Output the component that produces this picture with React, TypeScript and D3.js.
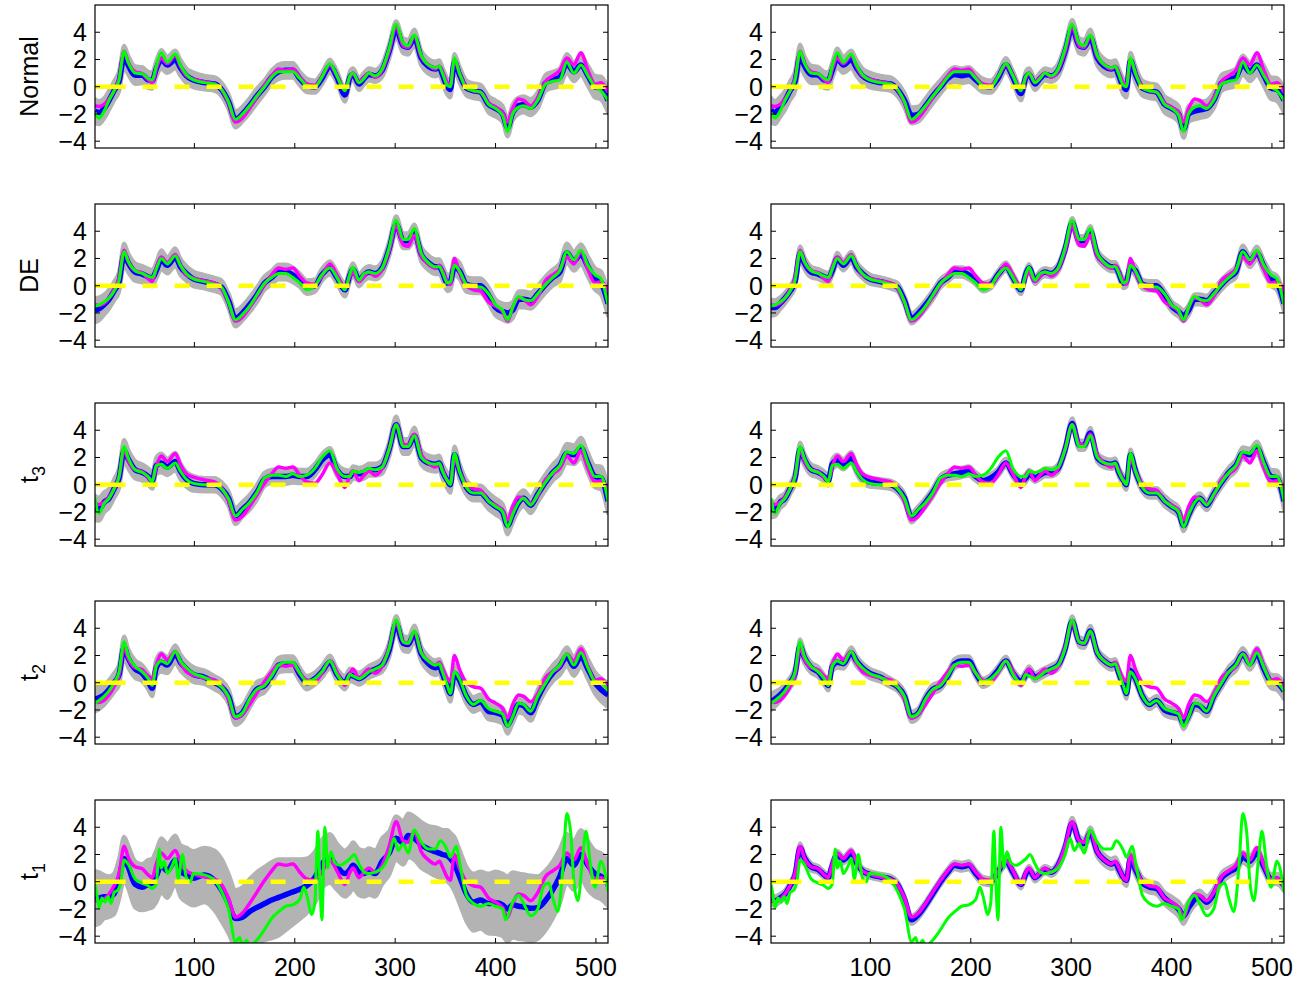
import React from 'react';
import * as d3 from 'd3';

// sample positions along the signal (shared by most series)
const knots = [
  1, 5, 10, 15, 20, 25, 30, 34, 41, 48,
  54, 58, 62, 67, 73, 81, 86, 92, 99, 110,
  120, 127, 134, 141, 148, 155, 162, 170, 177, 184,
  191, 198, 205, 212, 220, 227, 235, 242, 250, 255,
  258, 264, 269, 274, 280, 287, 294, 301, 308, 313,
  319, 326, 333, 340, 344, 347, 352, 355, 359, 364,
  371, 378, 385, 393, 400, 407, 412, 417, 423, 428,
  435, 442, 450, 457, 464, 471, 478, 485, 492, 499,
  505, 512,
];

// magenta: true signal
const truth = [
  -1.4, -1.45, -1.3, -0.9, -0.3, 0.6, 2.6, 1.8, 1.1, 0.95,
  0.5, 0.3, 1.3, 2.1, 1.7, 2.3, 1.5, 0.8, 0.55, 0.35,
  0.2, -0.2, -1.2, -2.6, -2.3, -1.6, -0.8, 0.1, 0.8, 1.3,
  1.2, 1.3, 0.7, 0.2, 0.1, 0.7, 1.6, 0.8, -0.2, 0.7,
  1.0, 0.3, 0.7, 1.0, 0.7, 1.2, 2.6, 4.4, 3.0, 2.9,
  3.7, 2.2, 1.6, 1.3, 1.5, 1.1, 0.3, 0.1, 2.0, 1.0,
  0.0, -0.3, -0.4, -1.2, -1.5, -1.9, -2.6, -1.6, -0.9, -1.0,
  -1.4, -0.8, 0.4, 0.8, 1.2, 2.1, 1.6, 2.5, 1.2, 0.2,
  0.3, -0.4,
];

// green estimates, one per noise model (same in both columns)
const greenNormal = [
  -1.9, -2.3, -1.8, -1.0, -0.3, 0.5, 2.6, 1.8, 1.0, 0.95,
  0.6, 0.5, 1.5, 2.5, 1.8, 2.4, 1.6, 0.9, 0.5, 0.3,
  0.2, -0.2, -1.1, -2.4, -2.0, -1.4, -0.7, 0.0, 0.7, 1.1,
  1.1, 1.1, 0.6, 0.1, 0.0, 0.7, 1.7, 0.8, -0.3, 0.8,
  1.0, 0.3, 0.6, 1.0, 0.8, 1.3, 2.8, 4.6, 3.2, 3.0,
  3.8, 2.3, 1.6, 1.4, 1.5, 1.0, 0.1, 0.0, 2.1, 1.0,
  -0.1, -0.3, -0.4, -1.3, -1.6, -2.1, -3.3, -2.0, -1.5, -1.4,
  -1.6, -1.0, 0.2, 0.4, 0.5, 1.8, 1.0, 1.6, 0.8, 0.0,
  -0.3, -1.0,
];
const greenDE = [
  -1.5, -1.4, -1.2, -0.9, -0.4, 0.4, 2.5, 1.8, 1.1, 0.9,
  0.7, 0.6, 1.2, 2.0, 1.6, 2.2, 1.5, 0.9, 0.5, 0.3,
  0.1, -0.1, -1.2, -2.5, -2.1, -1.5, -0.7, 0.2, 0.6, 0.9,
  0.9, 0.6, 0.2, -0.3, 0.0, 0.8, 1.3, 0.6, -0.3, 0.9,
  1.35, 0.4, 0.9, 1.0, 0.9, 1.3, 2.8, 4.8, 3.4, 3.4,
  4.2, 2.4, 1.7, 1.4, 1.4, 1.0, 0.2, 0.3, 1.5, 1.1,
  0.1, -0.1, -0.1, -0.6, -1.4, -1.8, -2.5, -1.6, -0.8, -1.0,
  -1.1, -0.6, 0.1, 0.6, 1.1, 2.5, 1.9, 2.6, 1.5, 0.8,
  0.5, -1.4,
];
const greenT3 = [
  -1.0, -2.1, -1.4, -1.0, -0.3, 0.6, 2.8, 2.0, 1.1, 0.9,
  0.6, 0.2, 1.4, 1.5, 1.2, 1.6, 1.0, 0.4, 0.1, 0.0,
  0.0, -0.3, -1.0, -2.3, -1.8, -1.3, -0.6, 0.5, 0.7, 0.7,
  0.6, 0.8, 0.6, 0.7, 1.2, 2.0, 2.5, 1.2, 0.6, 0.6,
  1.0, 0.9, 1.0, 1.2, 1.1, 1.3, 2.6, 4.4, 2.8, 2.8,
  3.6, 2.0, 1.6, 1.5, 1.6, 1.0, 0.3, 0.0, 2.3, 1.0,
  -0.2, -0.6, -0.6, -1.2, -1.6, -2.0, -3.1, -2.2, -1.3, -1.0,
  -1.5, -0.7, 0.2, 0.9, 1.4, 2.4, 2.3, 2.9, 1.6, 0.6,
  0.6, -1.2,
];
const greenT2 = [
  -1.5, -1.3, -1.0, -0.6, 0.0, 0.8, 3.0, 2.0, 1.2, 0.8,
  0.3, -0.2, 1.2, 1.6, 1.4, 2.3, 1.6, 1.1, 0.7, 0.4,
  0.0, -0.3, -1.0, -2.5, -2.2, -1.2, -0.5, -0.2, 0.5, 1.3,
  1.5, 1.5, 0.7, 0.1, 0.3, 0.8, 1.6, 0.6, 0.0, 0.6,
  0.5, 0.3, 0.5, 0.8, 1.0, 1.3, 2.5, 4.6, 3.0, 2.9,
  3.8, 2.2, 1.6, 1.3, 1.4, 0.8, -0.2, -0.8, 0.8, 0.3,
  -1.0, -1.6, -1.3, -1.9, -2.1, -2.3, -3.2, -2.5, -1.5, -1.6,
  -2.1, -1.0, 0.0, 0.8, 1.3, 2.1, 1.3, 2.2, 1.1, 0.1,
  0.0, -0.6,
];
// t1 green oscillates, so it has its own positions
const greenT1X = [
  1, 3, 5, 8, 11, 14, 17, 20, 24, 27,
  30, 34, 41, 48, 54, 58, 62, 65, 67, 70,
  73, 78, 81, 84, 88, 92, 96, 99, 110, 120,
  127, 134, 141, 145, 148, 152, 155, 162, 170, 177,
  184, 191, 198, 205, 209, 212, 217, 220, 223, 225,
  227, 230, 233, 236, 240, 245, 250, 255, 259, 264,
  269, 274, 280, 287, 294, 299, 303, 308, 313, 319,
  326, 333, 340, 345, 352, 355, 361, 364, 371, 378,
  385, 393, 400, 407, 410, 417, 423, 428, 435, 442,
  448, 453, 457, 462, 467, 471, 475, 478, 482, 487,
  490, 495, 499, 505, 512,
];
const greenT1 = [
  -0.2, -1.0, -1.9, -1.2, -1.5, -1.1, -1.6, -0.8, -0.6, 0.1,
  1.6, 1.3, 0.2, -0.1, -0.3, -0.5, -0.2, 2.4, 1.0, 1.5,
  0.6, 1.2, 1.7, 0.2, 2.0, 0.3, 0.0, 0.6, 0.5, 0.1,
  -0.7, -2.0, -4.4, -4.1, -4.7, -4.3, -4.7, -4.3, -3.5, -2.7,
  -2.2, -1.8, -1.7, -1.3, -0.4, -1.0, -2.4, -1.5, 3.7, 0.0,
  -2.8, 4.0, 1.0, 2.2, 1.4, 1.2, 1.4, 1.7, 2.0, 1.3,
  0.7, 0.6, 0.7, 1.0, 2.0, 3.2, 2.3, 2.8, 2.1, 3.8,
  2.9, 2.4, 2.4, 3.0, 2.3, 1.8, 2.6, 1.5, -1.0, -1.6,
  -1.8, -1.6, -1.8, -2.0, -2.8, -1.5, -1.0, -1.6, -2.5, -2.0,
  -0.3, -0.1, -1.2, -2.2, 1.0, 5.0, 3.5, 0.0, -1.4, 2.0,
  3.7, 1.0, -0.4, 1.5, -0.7,
];

// blue posterior means, left and right columns
const blueNormalL = [
  -1.8, -1.9, -1.6, -1.0, -0.3, 0.4, 2.2, 1.6, 0.85, 0.85,
  0.5, 0.45, 1.3, 2.0, 1.6, 2.0, 1.4, 0.8, 0.5, 0.3,
  0.2, -0.2, -1.1, -2.4, -2.0, -1.4, -0.7, 0.0, 0.7, 1.1,
  1.2, 1.2, 0.6, 0.1, 0.0, 0.6, 1.5, 0.7, -0.6, 0.7,
  0.9, 0.2, 0.6, 0.9, 0.8, 1.2, 2.6, 4.2, 3.0, 2.9,
  3.6, 2.1, 1.5, 1.3, 1.4, 0.9, 0.0, -0.2, 1.8, 0.9,
  -0.1, -0.3, -0.4, -1.3, -1.6, -2.0, -3.0, -1.9, -1.4, -1.3,
  -1.5, -1.0, 0.3, 0.5, 0.7, 1.7, 1.1, 1.6, 0.8, 0.0,
  -0.1, -1.0,
];
const blueNormalR = [
  -1.7, -1.9, -1.5, -1.0, -0.3, 0.4, 2.3, 1.6, 0.9, 0.85,
  0.5, 0.45, 1.2, 2.1, 1.6, 2.0, 1.4, 0.8, 0.5, 0.3,
  0.2, -0.2, -1.0, -2.1, -2.0, -1.4, -0.7, 0.0, 0.6, 0.9,
  0.8, 0.9, 0.5, 0.1, 0.0, 0.6, 1.6, 0.7, -0.5, 0.7,
  0.9, 0.2, 0.6, 0.9, 0.8, 1.2, 2.6, 4.3, 3.0, 2.9,
  3.6, 2.1, 1.5, 1.3, 1.4, 0.9, 0.0, -0.2, 1.9, 0.9,
  -0.1, -0.3, -0.4, -1.3, -1.6, -2.0, -3.1, -2.0, -1.8, -1.7,
  -1.6, -1.0, 0.3, 0.5, 0.7, 1.6, 1.1, 1.6, 0.8, -0.1,
  -0.2, -1.0,
];
const blueDEL = [
  -1.8, -1.7, -1.4, -1.0, -0.4, 0.3, 2.3, 1.7, 1.0, 0.85,
  0.65, 0.55, 1.1, 1.9, 1.5, 2.1, 1.4, 0.9, 0.5, 0.3,
  0.1, -0.1, -1.1, -2.4, -2.0, -1.4, -0.7, 0.2, 0.6, 1.0,
  1.0, 0.8, 0.4, -0.1, 0.0, 0.8, 1.3, 0.6, -0.3, 0.8,
  1.2, 0.4, 0.8, 1.0, 0.9, 1.3, 2.7, 4.5, 3.3, 3.3,
  3.9, 2.3, 1.7, 1.4, 1.4, 1.0, 0.2, 0.3, 1.4, 1.1,
  0.1, 0.0, 0.0, -0.7, -1.6, -1.9, -2.0, -1.8, -1.0, -1.0,
  -1.1, -0.6, 0.1, 0.6, 1.0, 2.4, 1.8, 2.3, 1.4, 0.5,
  0.2, -1.3,
];
const blueDER = [
  -1.6, -1.6, -1.3, -0.9, -0.4, 0.3, 2.4, 1.7, 1.0, 0.85,
  0.65, 0.55, 1.1, 2.0, 1.5, 2.1, 1.4, 0.9, 0.5, 0.3,
  0.1, -0.1, -1.1, -2.4, -2.0, -1.4, -0.7, 0.2, 0.6, 1.0,
  1.0, 0.8, 0.4, -0.1, 0.1, 0.8, 1.4, 0.6, -0.3, 0.9,
  1.3, 0.4, 0.8, 1.0, 0.9, 1.3, 2.7, 4.6, 3.3, 3.3,
  4.0, 2.3, 1.7, 1.4, 1.4, 1.0, 0.2, 0.3, 1.4, 1.1,
  0.1, 0.0, 0.0, -0.7, -1.5, -1.9, -2.2, -1.8, -1.0, -1.0,
  -1.1, -0.6, 0.1, 0.6, 1.0, 2.5, 1.8, 2.4, 1.4, 0.5,
  0.2, -1.3,
];
const blueT3L = [
  -1.7, -1.8, -1.3, -1.0, -0.3, 0.5, 2.5, 1.9, 1.1, 0.9,
  0.6, 0.3, 1.4, 1.6, 1.3, 1.7, 1.0, 0.4, 0.1, 0.0,
  0.0, -0.3, -1.0, -2.3, -1.8, -1.3, -0.6, 0.4, 0.6, 0.6,
  0.6, 0.7, 0.6, 0.6, 1.1, 1.8, 2.2, 1.1, 0.6, 0.6,
  0.9, 0.8, 0.9, 1.1, 1.1, 1.3, 2.6, 4.4, 2.8, 2.8,
  3.6, 2.0, 1.6, 1.5, 1.6, 1.0, 0.3, 0.0, 2.2, 1.0,
  -0.2, -0.6, -0.6, -1.2, -1.6, -2.0, -3.0, -2.2, -1.3, -1.0,
  -1.5, -0.7, 0.2, 0.9, 1.4, 2.3, 2.2, 2.7, 1.6, 0.6,
  0.5, -1.2,
];
const blueT3R = [
  -1.8, -1.8, -1.3, -1.0, -0.3, 0.5, 2.6, 1.9, 1.1, 0.9,
  0.6, 0.3, 1.5, 1.8, 1.5, 2.0, 1.2, 0.5, 0.2, 0.1,
  0.0, -0.3, -1.0, -2.4, -1.9, -1.3, -0.6, 0.4, 0.7, 0.8,
  0.9, 1.0, 0.6, 0.3, 0.5, 0.9, 1.6, 0.8, 0.2, 0.5,
  0.8, 0.5, 0.7, 0.9, 0.9, 1.2, 2.6, 4.5, 2.9, 2.9,
  3.8, 2.0, 1.6, 1.5, 1.6, 1.0, 0.3, 0.0, 2.2, 1.0,
  -0.2, -0.6, -0.6, -1.2, -1.6, -2.0, -3.0, -2.2, -1.3, -1.0,
  -1.5, -0.7, 0.2, 0.9, 1.4, 2.3, 2.2, 2.7, 1.6, 0.6,
  0.5, -1.2,
];
const blueT2L = [
  -1.2, -1.1, -0.9, -0.5, 0.0, 0.6, 2.6, 1.8, 1.0, 0.7,
  0.1, -0.4, 1.1, 1.5, 1.3, 2.1, 1.5, 1.0, 0.6, 0.4,
  0.0, -0.3, -1.0, -2.5, -2.2, -1.3, -0.5, -0.2, 0.5, 1.3,
  1.4, 1.4, 0.6, 0.0, 0.3, 0.8, 1.5, 0.6, 0.0, 0.6,
  0.5, 0.3, 0.5, 0.8, 1.0, 1.3, 2.4, 4.3, 2.9, 2.8,
  3.6, 2.1, 1.4, 1.1, 1.2, 0.7, -0.3, -0.8, 0.7, 0.2,
  -1.0, -1.6, -1.4, -2.1, -2.2, -2.4, -3.1, -2.4, -1.6, -1.7,
  -2.2, -1.1, 0.0, 0.7, 1.2, 1.9, 1.2, 1.9, 1.0, 0.0,
  -0.5, -0.9,
];
const blueT2R = [
  -1.4, -1.2, -0.9, -0.5, 0.0, 0.7, 2.7, 1.9, 1.1, 0.8,
  0.2, -0.2, 1.2, 1.5, 1.4, 2.2, 1.6, 1.1, 0.7, 0.4,
  0.0, -0.3, -1.0, -2.5, -2.2, -1.2, -0.5, -0.2, 0.5, 1.4,
  1.6, 1.6, 0.7, 0.0, 0.3, 0.9, 1.6, 0.7, 0.1, 0.6,
  0.9, 0.4, 0.6, 0.8, 1.0, 1.3, 2.5, 4.5, 3.0, 2.9,
  3.8, 2.2, 1.6, 1.3, 1.4, 0.8, -0.2, -0.8, 0.9, 0.3,
  -1.0, -1.6, -1.3, -2.0, -2.2, -2.3, -3.0, -2.4, -1.6, -1.7,
  -2.1, -1.0, 0.0, 0.8, 1.3, 2.1, 1.4, 2.1, 1.0, 0.1,
  0.0, -0.6,
];
const blueT1L = [
  -1.2, -1.2, -1.1, -1.1, -0.9, 0.2, 1.7, 1.1, -0.2, -0.4,
  -0.2, -0.1, 0.4, 1.2, 0.8, 1.6, 0.8, 0.5, 0.25, 0.5,
  0.1, -0.6, -1.6, -2.7, -2.6, -2.2, -1.9, -1.6, -1.35, -1.15,
  -0.95, -0.75, -0.55, -0.3, 0.3, 1.3, 1.7, 1.1, 0.6, 0.9,
  1.2, 0.7, 0.6, 0.75, 0.6, 1.5, 2.1, 3.2, 2.85, 3.4,
  3.2, 2.7, 2.4, 2.2, 2.1, 2.0, 1.9, 1.7, 1.3, 0.4,
  -0.9, -1.5, -1.35, -1.6, -1.55, -1.7, -2.0, -1.7, -1.8, -1.85,
  -1.95, -1.9, -1.35, -0.6, 0.4, 1.7, 1.2, 2.0, 1.2, 0.6,
  0.4, -0.1,
];
const blueT1R = [
  -1.3, -1.4, -1.2, -0.9, -0.3, 0.5, 2.5, 1.8, 1.1, 0.9,
  0.5, 0.3, 1.2, 2.0, 1.6, 2.1, 1.4, 0.8, 0.55, 0.35,
  0.2, -0.2, -1.3, -2.8, -2.4, -1.7, -0.9, 0.0, 0.7, 1.2,
  1.1, 1.2, 0.6, 0.1, 0.0, 0.7, 1.5, 0.7, -0.2, 0.6,
  0.9, 0.3, 0.6, 0.9, 0.7, 1.2, 2.5, 4.3, 3.0, 2.8,
  3.6, 2.2, 1.6, 1.3, 1.4, 1.0, 0.3, 0.1, 1.7, 0.9,
  -0.1, -0.4, -0.5, -1.2, -1.6, -2.0, -2.5, -1.9, -1.3, -1.1,
  -1.5, -0.9, 0.3, 0.7, 1.0, 1.8, 1.5, 2.1, 1.1, 0.2,
  0.2, -0.3,
];

// half-widths of the grey credible bands
const spreadWide = [
  0.9, 0.85, 0.75, 0.7, 0.7, 0.75, 0.8, 0.7, 0.65, 0.6,
  0.6, 0.6, 0.6, 0.7, 0.6, 0.65, 0.6, 0.55, 0.55, 0.5,
  0.5, 0.5, 0.55, 0.6, 0.55, 0.55, 0.55, 0.5, 0.5, 0.55,
  0.55, 0.55, 0.5, 0.5, 0.45, 0.45, 0.5, 0.45, 0.5, 0.45,
  0.45, 0.45, 0.45, 0.45, 0.45, 0.5, 0.55, 0.6, 0.55, 0.55,
  0.6, 0.55, 0.55, 0.55, 0.55, 0.55, 0.6, 0.6, 0.6, 0.6,
  0.55, 0.55, 0.55, 0.6, 0.6, 0.6, 0.65, 0.6, 0.6, 0.6,
  0.6, 0.6, 0.6, 0.6, 0.65, 0.7, 0.7, 0.75, 0.75, 0.8,
  0.85, 0.9,
];
const spreadNarrow = [
  0.6, 0.55, 0.45, 0.4, 0.4, 0.45, 0.5, 0.45, 0.4, 0.38,
  0.38, 0.38, 0.38, 0.42, 0.38, 0.4, 0.38, 0.35, 0.35, 0.32,
  0.32, 0.32, 0.35, 0.38, 0.35, 0.35, 0.35, 0.32, 0.32, 0.35,
  0.35, 0.35, 0.32, 0.32, 0.3, 0.3, 0.32, 0.3, 0.32, 0.3,
  0.3, 0.3, 0.3, 0.3, 0.3, 0.32, 0.35, 0.38, 0.35, 0.35,
  0.38, 0.35, 0.35, 0.35, 0.35, 0.35, 0.38, 0.38, 0.38, 0.38,
  0.35, 0.35, 0.35, 0.38, 0.38, 0.38, 0.42, 0.38, 0.38, 0.38,
  0.38, 0.38, 0.38, 0.38, 0.42, 0.45, 0.45, 0.48, 0.48, 0.5,
  0.55, 0.6,
];
const spreadT1R = [
  0.4, 0.35, 0.3, 0.28, 0.28, 0.3, 0.32, 0.3, 0.28, 0.26,
  0.26, 0.26, 0.26, 0.28, 0.26, 0.28, 0.26, 0.25, 0.25, 0.24,
  0.24, 0.24, 0.26, 0.3, 0.28, 0.26, 0.26, 0.25, 0.25, 0.28,
  0.3, 0.3, 0.28, 0.28, 0.28, 0.3, 0.35, 0.3, 0.3, 0.28,
  0.28, 0.28, 0.28, 0.28, 0.28, 0.3, 0.35, 0.4, 0.35, 0.35,
  0.4, 0.38, 0.38, 0.38, 0.4, 0.4, 0.42, 0.42, 0.45, 0.42,
  0.4, 0.4, 0.42, 0.45, 0.5, 0.55, 0.6, 0.5, 0.45, 0.45,
  0.45, 0.42, 0.38, 0.35, 0.35, 0.4, 0.4, 0.42, 0.4, 0.38,
  0.38, 0.4,
];
const spreadT1L = [
  2.0, 1.9, 1.6, 1.5, 1.5, 1.5, 1.6, 1.6, 1.7, 1.7,
  1.8, 1.8, 1.9, 2.0, 2.0, 1.8, 1.9, 2.0, 2.0, 2.0,
  2.2, 2.3, 2.2, 2.1, 2.2, 2.4, 2.6, 2.7, 2.8, 2.8,
  2.6, 2.4, 2.2, 2.0, 1.9, 1.8, 1.8, 1.7, 1.7, 1.7,
  1.7, 1.7, 1.7, 1.7, 1.7, 1.7, 1.6, 1.6, 1.6, 1.6,
  1.6, 1.7, 1.7, 1.8, 1.8, 1.8, 1.9, 1.9, 2.0, 2.0,
  2.0, 2.1, 2.1, 2.2, 2.3, 2.3, 2.4, 2.4, 2.4, 2.4,
  2.4, 2.3, 2.2, 2.1, 2.0, 1.8, 1.8, 1.8, 1.8, 1.7,
  1.7, 1.7,
];

const rowLabels = ['Normal', 'DE', ['t', '3'], ['t', '2'], ['t', '1']];
const xTicks = [100, 200, 300, 400, 500];
const yTicks = [-4, -2, 0, 2, 4];

const rows = [
  { green: greenNormal, greenX: knots, blue: [blueNormalL, blueNormalR], spread: [spreadWide, spreadWide] },
  { green: greenDE, greenX: knots, blue: [blueDEL, blueDER], spread: [spreadWide, spreadNarrow] },
  { green: greenT3, greenX: knots, blue: [blueT3L, blueT3R], spread: [spreadWide, spreadNarrow] },
  { green: greenT2, greenX: knots, blue: [blueT2L, blueT2R], spread: [spreadWide, spreadNarrow] },
  { green: greenT1, greenX: greenT1X, blue: [blueT1L, blueT1R], spread: [spreadT1L, spreadT1R] },
];

const colX = [95, 771];
const rowY = [5, 204, 403, 601, 800];
const PW = 513;
const PH = 143;
const FONT = 'Liberation Sans, Arial, Helvetica, sans-serif';

const x = d3.scaleLinear().domain([1, 512]).range([0, PW]);
const y = d3.scaleLinear().domain([-4.5, 6]).range([PH, 0]);
const fmt = d3.format('d');

const line = d3
  .line<[number, number]>()
  .x((d) => x(d[0]))
  .y((d) => y(d[1]))
  .curve(d3.curveMonotoneX);

const zip = (xs: number[], vs: number[]) => xs.map((k, i) => [k, vs[i]] as [number, number]);

const bandPath = (vals: number[], spread: number[]) =>
  d3
    .area<number>()
    .x((_, i) => x(knots[i]))
    .y0((v, i) => y(v - spread[i]))
    .y1((v, i) => y(v + spread[i]))
    .curve(d3.curveMonotoneX)(vals) as string;

const Panel = ({ row, col, showX }: { row: number; col: number; showX: boolean }) => {
  const r = rows[row];
  const blue = r.blue[col];
  return (
    <g transform={`translate(${colX[col]},${rowY[row]})`}>
      <g clipPath="url(#panel-clip)">
        <path
          d={bandPath(blue, r.spread[col])}
          fill="#b3b3b3"
          stroke="#b3b3b3"
          strokeWidth={4}
          strokeLinejoin="round"
        />
        <path d={line(zip(knots, blue)) as string} fill="none" stroke="#0000ff" strokeWidth={5.5} />
        <path d={line(zip(knots, truth)) as string} fill="none" stroke="#ff00ff" strokeWidth={3.5} />
        <path d={line(zip(r.greenX, r.green)) as string} fill="none" stroke="#00ff00" strokeWidth={3} />
        <line x1={x(1)} x2={x(1) + 16} y1={y(0)} y2={y(0)} stroke="#ffff00" strokeWidth={4.5} />
        <line
          x1={x(1)}
          x2={x(512)}
          y1={y(0)}
          y2={y(0)}
          stroke="#ffff00"
          strokeWidth={4.5}
          strokeDasharray="15 17"
          strokeDashoffset={16.4}
        />
      </g>
      <rect x={0} y={0} width={PW} height={PH} fill="none" stroke="#000" strokeWidth={1.2} />
      {yTicks.map((t) => (
        <g key={t}>
          <line x1={0} x2={5} y1={y(t)} y2={y(t)} stroke="#000" strokeWidth={1} />
          <line x1={PW - 5} x2={PW} y1={y(t)} y2={y(t)} stroke="#000" strokeWidth={1} />
          <text x={-8} y={y(t)} dy="0.36em" textAnchor="end" fontSize={25} fontFamily={FONT}>
            {fmt(t)}
          </text>
        </g>
      ))}
      {xTicks.map((t) => (
        <g key={t}>
          <line x1={x(t)} x2={x(t)} y1={PH} y2={PH - 5} stroke="#000" strokeWidth={1} />
          <line x1={x(t)} x2={x(t)} y1={0} y2={5} stroke="#000" strokeWidth={1} />
          {showX && (
            <text x={x(t)} y={PH + 33} textAnchor="middle" fontSize={25} fontFamily={FONT}>
              {t}
            </text>
          )}
        </g>
      ))}
    </g>
  );
};

const RowLabel = ({ row }: { row: number }) => {
  const label = rowLabels[row];
  const cx = 38;
  const cy = rowY[row] + PH / 2;
  return (
    <text
      transform={`translate(${cx},${cy}) rotate(-90)`}
      textAnchor="middle"
      fontSize={25}
      fontFamily={FONT}
    >
      {typeof label === 'string' ? (
        label
      ) : (
        <>
          <tspan>{label[0]}</tspan>
          <tspan dy={7} fontSize={18}>
            {label[1]}
          </tspan>
        </>
      )}
    </text>
  );
};

const App = () => {
  return (
    <div style={{ position: 'absolute', left: 0, top: 0 }}>
      <svg width={1308} height={985} style={{ display: 'block', background: '#fff' }}>
        <defs>
          <clipPath id="panel-clip">
            <rect x={0} y={0} width={PW} height={PH} />
          </clipPath>
        </defs>
        {rows.map((_, ri) => (
          <g key={ri}>
            <RowLabel row={ri} />
            <Panel row={ri} col={0} showX={ri === rows.length - 1} />
            <Panel row={ri} col={1} showX={ri === rows.length - 1} />
          </g>
        ))}
      </svg>
    </div>
  );
};

export default App;
